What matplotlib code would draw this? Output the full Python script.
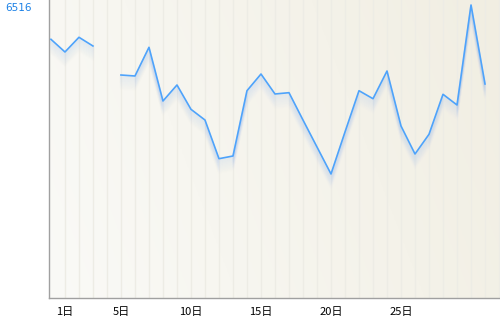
import numpy as np
import matplotlib
matplotlib.use('Agg')
import matplotlib.pyplot as plt
import matplotlib.transforms as mtransforms

plt.rcParams['font.family'] = ['Noto Sans CJK JP', 'DejaVu Sans']

# daily values (index 0..31), index 4 has no data
days = list(range(32))
values = [5753, 5471, 5798, 5604, None, 4959, 4937, 5575, 4381, 4737,
          4196, 3958, 3098, 3158, 4610, 4981, 4537, 4566, 3958, 3358,
          2758, 3692, 4610, 4432, 5048, 3825, 3202, 3641, 4530, 4292,
          6516, 4759]
tick_pos = [1, 5, 10, 15, 20, 25]
tick_labels = ['1日', '5日', '10日', '15日', '20日', '25日']
y_max_label = '6516'

y = np.array([np.nan if v is None else v for v in values], dtype=float)
ymax = np.nanmax(y)

fig = plt.figure(figsize=(5, 3.17), dpi=100)
ax = fig.add_axes([49 / 500, 1 - 298 / 317, 451 / 500, 298 / 317])

x0, x1 = -0.14, 32.07
y0, y1 = 0, ymax * 298 / 293
ax.set_xlim(x0, x1)
ax.set_ylim(y0, y1)

# background gradient, white-ish on the left to beige on the right
gx = np.linspace(0, 1, 200)
gy = np.linspace(0, 1, 100)
GX, GY = np.meshgrid(gx, gy)
t = np.clip(0.8 * GX + 0.2 * GY, 0, 1)
c_left = np.array([250, 250, 247]) / 255
c_right = np.array([241, 238, 226]) / 255
img = c_left[None, None, :] * (1 - t[..., None]) + c_right[None, None, :] * t[..., None]
ax.imshow(img, extent=[x0, x1, y0, y1], origin='lower', aspect='auto', zorder=0)

# vertical grid lines
for gxv in range(1, 33):
    ax.axvline(gxv, color='#edece5', lw=1, zorder=1)

# soft shadow under the line
for k in range(1, 15):
    off = mtransforms.ScaledTranslation(0, -k / 100, fig.dpi_scale_trans)
    ax.plot(days, y, color='#9dbfec', lw=1.5, alpha=0.10 * (1 - k / 15),
            transform=ax.transData + off, zorder=2, solid_joinstyle='miter')

ax.plot(days, y, color='#4ea3fb', lw=1.2, zorder=3)

ax.set_xticks(tick_pos)
ax.set_xticklabels(tick_labels, fontsize=8)
ax.tick_params(axis='x', length=0, pad=6.5)
ax.set_yticks([])

for s in ['top', 'right']:
    ax.spines[s].set_visible(False)
for s in ['left', 'bottom']:
    ax.spines[s].set_color('#a0a0a0')
    ax.spines[s].set_linewidth(1)

trans = mtransforms.blended_transform_factory(fig.transFigure, ax.transData)
ax.text(5 / 500, 1 - 8 / 317, y_max_label, transform=fig.transFigure, color='#1a80e6',
        fontsize=7.5, ha='left', va='center', family='DejaVu Sans')

fig.savefig('out.png', dpi=100)
